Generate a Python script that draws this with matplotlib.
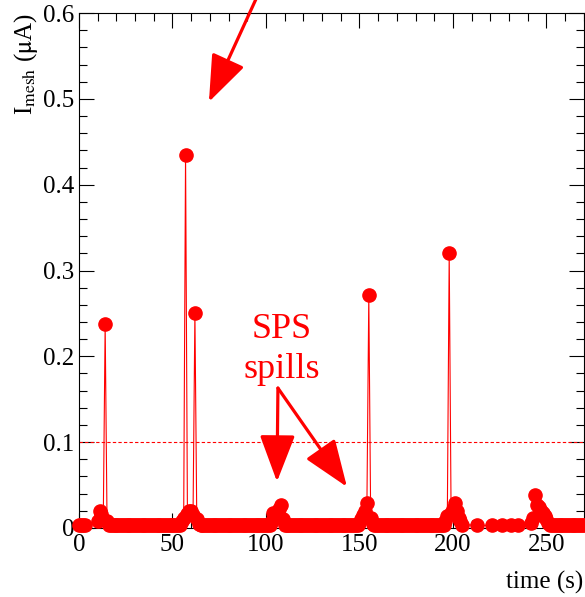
import numpy as np
from matplotlib import pyplot as plt

# quiet readout periods (s), 1 Hz sampling, current sits on the pedestal
quiet_segments = [(0, 3), (10, 205), (213, 213), (221, 221), (226, 226),
                  (231, 231), (235, 235), (242, 270)]
pedestal = 0.003

# spill bumps and discharge spikes (time in s, current in uA)
spill_t = [10, 11, 12, 13, 14, 15, 16,
           54, 55, 56, 57, 58, 59, 60, 61, 62, 63, 64,
           102, 103, 104, 105, 106, 107, 108, 109, 110,
           149, 150, 151, 152, 153, 154, 155, 156, 157,
           195, 196, 197, 198, 199, 200, 201, 202, 203, 204, 205,
           242, 243, 244, 245, 246, 247, 248, 249, 250, 251, 252]
spill_i = [0.008, 0.020, 0.016, 0.010, 0.238, 0.008, 0.004,
           0.004, 0.008, 0.012, 0.435, 0.016, 0.020, 0.020, 0.015, 0.251, 0.010, 0.005,
           0.004, 0.008, 0.018, 0.012, 0.014, 0.022, 0.027, 0.010, 0.004,
           0.004, 0.006, 0.010, 0.015, 0.020, 0.029, 0.271, 0.012, 0.005,
           0.004, 0.008, 0.014, 0.320, 0.018, 0.022, 0.029, 0.020, 0.012, 0.008, 0.004,
           0.006, 0.012, 0.039, 0.027, 0.024, 0.020, 0.018, 0.014, 0.010, 0.006, 0.004]

threshold = 0.1

# merge quiet samples with spill samples
readings = {}
for a, b in quiet_segments:
    for t in range(a, b + 1):
        readings[t] = pedestal
for t, i in zip(spill_t, spill_i):
    readings[t] = i
time = np.array(sorted(readings))
current = np.array([readings[t] for t in time])

plt.rcParams['font.family'] = ['Liberation Serif', 'DejaVu Serif']
plt.rcParams['mathtext.fontset'] = 'stix'

fig = plt.figure(figsize=(5.85, 5.97), dpi=100)
ax = fig.add_axes([0.135, 0.1156, 0.863, 0.8626])

ax.plot(time, current, color='red', lw=0.8, marker='o', ms=9.5, mec='red', mfc='red',
        clip_on=False, zorder=3)
ax.axhline(threshold, color='red', lw=0.8, ls=(0, (3, 2)))

ax.set_xlim(0, 270)
ax.set_ylim(0, 0.6)
ax.set_xticks([0, 50, 100, 150, 200, 250])
ax.set_xticks(np.arange(0, 271, 10), minor=True)
ax.set_yticks([0, 0.1, 0.2, 0.3, 0.4, 0.5, 0.6])
ax.set_yticklabels(['0', '0.1', '0.2', '0.3', '0.4', '0.5', '0.6'])
ax.set_yticks(np.arange(0, 0.61, 0.02), minor=True)
ax.tick_params(which='both', direction='in', top=True, right=True, labelsize=18, width=0.8)
ax.tick_params(which='major', length=11)
ax.tick_params(which='minor', length=6)
ax.tick_params(axis='x', pad=4)
for s in ax.spines.values():
    s.set_linewidth(0.8)

fig.text(0.044, 0.978, r'I$_{\mathrm{mesh}}$ ($\mathrm{\mu}$A)', rotation=90,
         ha='center', va='top', fontsize=18)
fig.text(0.997, 0.024, 'time (s)', ha='right', va='center', fontsize=18)

arrow = dict(arrowstyle='-|>,head_length=2.9,head_width=1.1', color='red', lw=2.3,
             mutation_scale=10, shrinkA=0, shrinkB=0)
ax.annotate('', xy=(69.5, 0.4965), xytext=(96.5, 0.625), arrowprops=arrow,
            annotation_clip=False)
ax.annotate('', xy=(105.9, 0.054), xytext=(106.4, 0.163), arrowprops=arrow)
ax.annotate('', xy=(143.3, 0.048), xytext=(106.4, 0.163), arrowprops=arrow)
ax.text(108.6, 0.208, 'SPS\nspills', color='red', fontsize=26, ha='center', va='center',
        linespacing=1.25)

fig.savefig('out.png', dpi=100)
